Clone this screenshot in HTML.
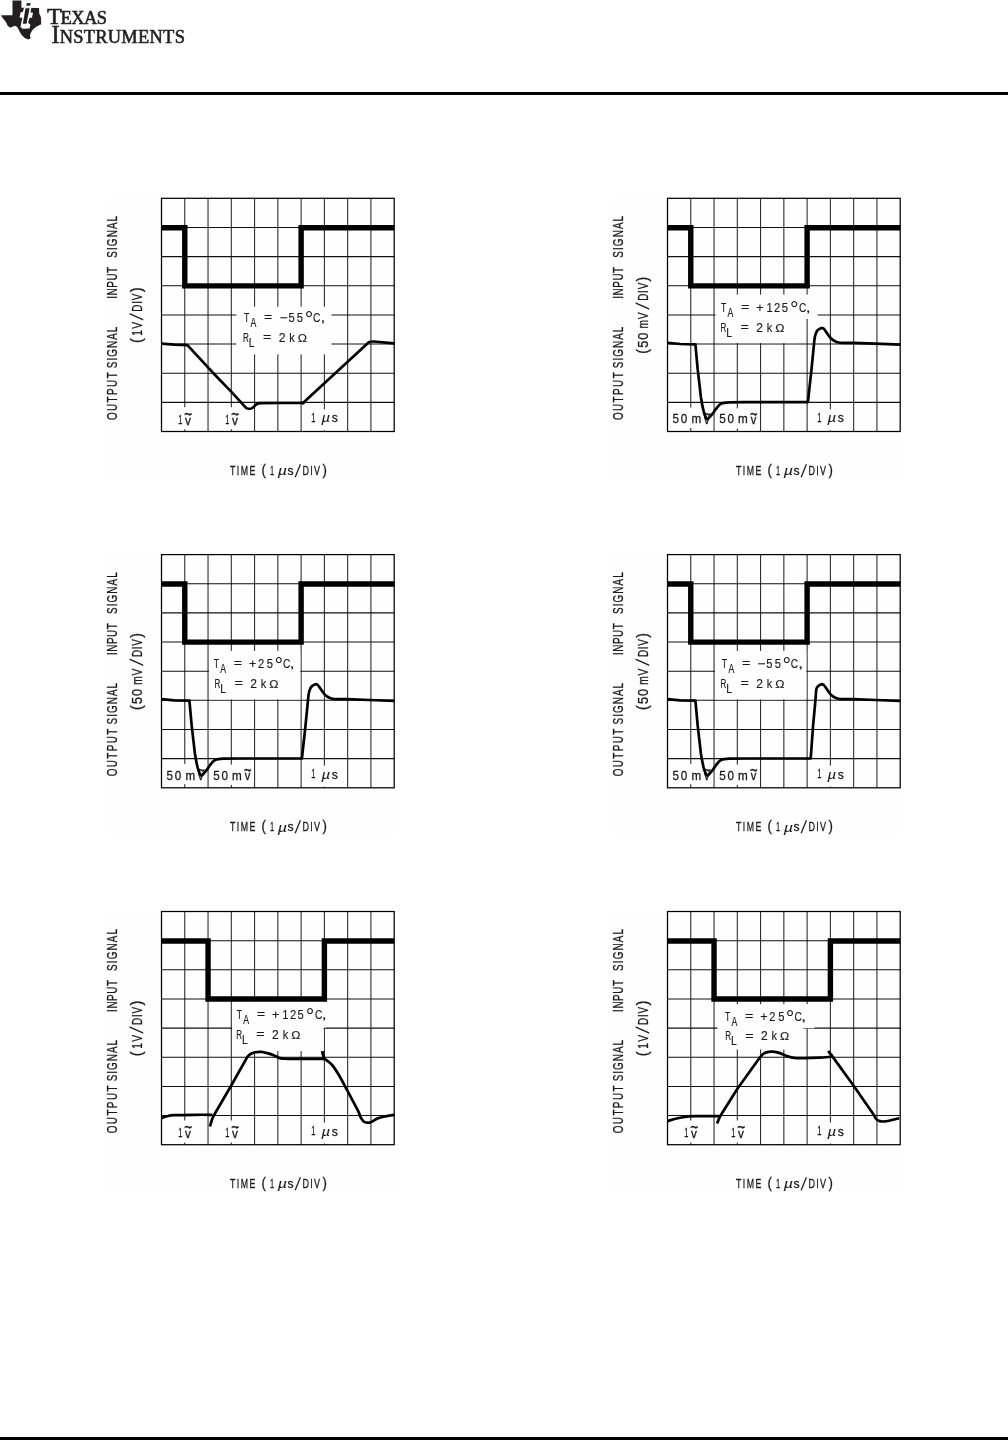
<!DOCTYPE html>
<html lang="en"><head><meta charset="utf-8"><title>Typical Performance Characteristics</title>
<style>html,body{margin:0;padding:0;background:#fff}body{width:1008px;height:1440px;overflow:hidden}svg{display:block}
text{font-family:"Liberation Sans",sans-serif;font-size:12.9px;fill:#1a1a1a;stroke:#1a1a1a;stroke-width:0.3px;font-kerning:none}
text.i{font-style:italic;stroke-width:.1px}
.bx text{stroke-width:.15px}
text.dg{stroke:none}
text.lg{font-family:"Liberation Serif",serif;fill:#231f20;stroke:#231f20;stroke-width:0.6px}
</style></head><body>
<svg width="1008" height="1440" viewBox="0 0 1008 1440">
<rect x="0" y="0" width="1008" height="1440" fill="#fff"/>
<g fill="#231f20">
<polygon points="12.48,0.48 21.43,0.48 21.43,7.86 39.05,8.1 39.29,13.81 40.95,17.14 41.19,24.29 36.19,26.67 32.86,29.52 30.95,32.38 30,35.24 30.48,38.57 28.1,39.52 24.76,38.1 21.43,34.76 19.05,30.48 17.62,27.62 15.71,25.95 13.33,26.19 10.24,27.86 7.62,25.71 6.19,22.38 1.43,16.19 1.19,15.24 12.48,15.14"/>
<polygon points="24.05,7.62 31.43,7.62 30.48,12.62 33.1,12.86 31.9,17.86 29.52,17.86 28.1,22.86 30.48,24.76 29.52,28.57 22.38,28.81 20.48,26.67 22.38,17.86 19.52,17.62 20.71,12.14 22.86,11.9" fill="#fff"/>
<polygon points="25.48,8.19 29.62,8.19 26.52,23.81 22.86,23.81"/>
<polygon points="26.9,3.1 30.71,3.33 30,5.71 26.19,5.62"/>
</g>
<text class="lg" x="46.9" y="23.5" style="font-size:24px">T<tspan dx="-0.95" style="font-size:18.4px;letter-spacing:-0.55px">EXAS</tspan></text>
<text class="lg" x="51.4" y="43.3" style="font-size:24.4px">I<tspan dx="0.1" style="font-size:18.4px;letter-spacing:0.29px">NSTRUMENTS</tspan></text>
<rect x="0" y="92" width="1008" height="3" fill="#000"/>
<rect x="0" y="1437" width="1008" height="3" fill="#000"/>
<g transform="translate(161.5 198.3)">
<rect x="-54.5" y="-0.5" width="288.5" height="280" fill="#fefefe"/>
<path d="M23.27 0V233.2M46.54 0V233.2M69.81 0V233.2M93.08 0V233.2M116.35 0V233.2M139.62 0V233.2M162.89 0V233.2M186.16 0V233.2M209.43 0V233.2" stroke="#262626" stroke-width="1.05" fill="none"/><path d="M0 29.15H232.7M0 58.3H232.7M0 87.45H232.7M0 116.6H232.7M0 145.75H232.7M0 174.9H232.7M0 204.05H232.7" stroke="#111" stroke-width="1.05" fill="none"/>
<rect x="74.8" y="108.5" width="95.2" height="47.6" fill="#fefefe"/>
<rect x="12" y="209" width="22.5" height="22" fill="#fefefe"/>
<rect x="58.5" y="209" width="22.5" height="22" fill="#fefefe"/>
<rect x="146" y="211" width="33" height="21" fill="#fefefe"/>
<rect x="0" y="0" width="232.7" height="233.2" fill="none" stroke="#000" stroke-width="1.25"/>
<path d="M0 29.45 H23.27 V87.55 H139.62 V29.45 H232.7" fill="none" stroke="#000" stroke-width="5.4" stroke-linejoin="miter"/>
<g class="bx"><text transform="translate(82.51 123.5) scale(0.6989 1)" style="font-size:12.4px">T</text><text transform="translate(89.08 128.8) scale(0.7054 1)" style="font-size:12.4px">A</text><text transform="translate(102.6 122.9) scale(1.1619 1)" style="font-size:12.4px">=</text><text transform="translate(118.01 123.5) scale(1.1287 1)" style="font-size:12.4px">−</text><text transform="translate(126.95 123.5) scale(0.9000 1)" style="font-size:12.4px" letter-spacing="2.45">55</text><text transform="translate(143.22 127.9) scale(1.0704 1)" style="font-size:20px" class="dg">°</text><text transform="translate(151.48 123.5) scale(0.8277 1)" style="font-size:12.4px">C</text><text transform="translate(158.94 123.5) scale(1.3969 1)" style="font-size:12.4px">,</text><text transform="translate(81.44 143.4) scale(0.6520 1)" style="font-size:12.4px">R</text><text transform="translate(87.24 148.4) scale(0.8414 1)" style="font-size:12.4px">L</text><text transform="translate(101.5 142.8) scale(1.1619 1)" style="font-size:12.4px">=</text><text transform="translate(117.29 143.4) scale(0.9736 1)" style="font-size:12.4px">2</text><text transform="translate(127.85 143.4) scale(0.8918 1)" style="font-size:12.4px">k</text><text transform="translate(136.37 143.4) scale(1.0769 1)" style="font-size:11.5px">Ω</text></g>
<text transform="translate(16.63 225.2) scale(0.5753 1)">1</text><text transform="translate(23.56 226.2) scale(0.8910 1)" style="font-size:13.2px">v</text><text transform="translate(22.69 221.8) scale(1.0430 1.35)" style="font-size:13px">~</text><text transform="translate(63.63 225.2) scale(0.5753 1)">1</text><text transform="translate(70.56 226.2) scale(0.8910 1)" style="font-size:13.2px">v</text><text transform="translate(69.69 221.8) scale(1.0430 1.35)" style="font-size:13px">~</text><text transform="translate(149.73 223.8) scale(0.5753 1)">1</text><text transform="translate(160.11 224) scale(1.1886 1)" style="font-size:12.6px" class="i">µ</text><text transform="translate(170.16 224) scale(0.9422 1)">s</text>
<path d="M0 145.4 L12.8 146.3 L25.9 146.8 L50.9 173.9 L69.9 193.6 L81.8 206.6 C83 208 84 209.2 84.8 209.7 C85.8 210.4 86.8 210.6 87.8 210.6 C88.9 210.6 89.9 210.3 90.8 209.7 C92.3 208.6 93.6 207 94.9 206.1 C96.3 205.2 98 204.9 99.7 204.9 L118.1 204.7 L141.5 204.7 L207.3 143.9 C208.8 143.3 210.5 143.1 212.3 143.2 L232.7 145.1" fill="none" stroke="#000" stroke-width="2.7" stroke-linejoin="round" stroke-linecap="butt"/><circle cx="141.6" cy="204.6" r="1.7" fill="#000"/>
<text transform="translate(-44.3 221.77) rotate(-90) scale(0.7000 1)" style="font-size:14.1px" letter-spacing="2.06">OUTPUT</text><text transform="translate(-44.3 169.85) rotate(-90) scale(0.7000 1)" style="font-size:14.1px" letter-spacing="1.51">SIGNAL</text><text transform="translate(-44.3 100.41) rotate(-90) scale(0.7000 1)" style="font-size:14.1px" letter-spacing="0.8">INPUT</text><text transform="translate(-44.3 59.45) rotate(-90) scale(0.7000 1)" style="font-size:14.1px" letter-spacing="1.62">SIGNAL</text><text transform="translate(-19.1 144.79) rotate(-90) scale(0.9187 1)" style="font-size:15.6px">(</text><text transform="translate(-19.4 137.37) rotate(-90) scale(0.7200 1)" style="font-size:14.1px" letter-spacing="1.95">1V</text><text class="dg" transform="translate(-18.1 122.3) rotate(-90) skewX(-9.82)" style="font-size:18.52px">/</text><text transform="translate(-19.4 113.41) rotate(-90) scale(0.7000 1)" style="font-size:14.1px" letter-spacing="1.14">DIV</text><text transform="translate(-19.1 93.99) rotate(-90) scale(0.9671 1)" style="font-size:15.6px">)</text>
<text transform="translate(68.4 276.7) scale(0.6800 1)" letter-spacing="2.26">TIME</text><text transform="translate(99.98 276.2) scale(0.9042 1)" style="font-size:14.6px">(</text><text transform="translate(108.43 276.7) scale(0.5753 1)">1</text><text transform="translate(116.21 276.9) scale(1.2777 1)" style="font-size:12.6px" class="i">µ</text><text transform="translate(126.06 276.7) scale(0.9422 1)">s</text><text class="dg" transform="translate(132.9 278.3) skewX(-7.37)" style="font-size:17.7px">/</text><text transform="translate(141.06 276.7) scale(0.7000 1)" letter-spacing="1.73">DIV</text><text transform="translate(161.02 276.2) scale(0.9042 1)" style="font-size:14.6px">)</text>
</g>
<g transform="translate(667.5 198.3)">
<rect x="-54.5" y="-0.5" width="288.5" height="280" fill="#fefefe"/>
<path d="M23.27 0V233.2M46.54 0V233.2M69.81 0V233.2M93.08 0V233.2M116.35 0V233.2M139.62 0V233.2M162.89 0V233.2M186.16 0V233.2M209.43 0V233.2" stroke="#262626" stroke-width="1.05" fill="none"/><path d="M0 29.15H232.7M0 58.3H232.7M0 87.45H232.7M0 116.6H232.7M0 145.75H232.7M0 174.9H232.7M0 204.05H232.7" stroke="#111" stroke-width="1.05" fill="none"/>
<rect x="48" y="96.3" width="82" height="48.5" fill="#fefefe"/>
<rect x="128" y="96.3" width="22" height="24.4" fill="#fefefe"/>
<rect x="2" y="209.3" width="43.6" height="20.3" fill="#fefefe"/>
<rect x="48.5" y="210" width="43.6" height="20.3" fill="#fefefe"/>
<rect x="146" y="211" width="33" height="21" fill="#fefefe"/>
<rect x="0" y="0" width="232.7" height="233.2" fill="none" stroke="#000" stroke-width="1.25"/>
<path d="M0 29.45 H23.27 V87.55 H139.62 V29.45 H232.7" fill="none" stroke="#000" stroke-width="5.4" stroke-linejoin="miter"/>
<g class="bx"><text transform="translate(53.41 113.5) scale(0.6989 1)" style="font-size:12.4px">T</text><text transform="translate(59.98 118.8) scale(0.7054 1)" style="font-size:12.4px">A</text><text transform="translate(73.5 112.9) scale(1.1619 1)" style="font-size:12.4px">=</text><text transform="translate(88.69 113.5) scale(1.0125 1)" style="font-size:12.4px">+</text><text transform="translate(98.95 113.5) scale(0.9000 1)" style="font-size:12.4px" letter-spacing="1.61">125</text><text transform="translate(122.52 117.9) scale(1.0704 1)" style="font-size:20px" class="dg">°</text><text transform="translate(131.58 113.5) scale(0.8277 1)" style="font-size:12.4px">C</text><text transform="translate(138.34 113.5) scale(1.3969 1)" style="font-size:12.4px">,</text><text transform="translate(52.94 133.2) scale(0.6520 1)" style="font-size:12.4px">R</text><text transform="translate(58.74 138.2) scale(0.8414 1)" style="font-size:12.4px">L</text><text transform="translate(73 132.6) scale(1.1619 1)" style="font-size:12.4px">=</text><text transform="translate(88.79 133.2) scale(0.9736 1)" style="font-size:12.4px">2</text><text transform="translate(99.35 133.2) scale(0.8918 1)" style="font-size:12.4px">k</text><text transform="translate(107.87 133.2) scale(1.0769 1)" style="font-size:11.5px">Ω</text></g>
<text transform="translate(4.94 225) scale(0.9000 1)" letter-spacing="2.01">50</text><text transform="translate(23.92 225) scale(0.9072 1)">m</text><text transform="translate(36.56 225.8) scale(0.8922 1)" style="font-size:12.5px">v</text><text transform="translate(35.72 221.4) scale(0.9963 1.35)" style="font-size:13px">~</text><text transform="translate(51.64 225) scale(0.9000 1)" letter-spacing="2.01">50</text><text transform="translate(70.62 225) scale(0.9072 1)">m</text><text transform="translate(83.26 225.8) scale(0.8922 1)" style="font-size:12.5px">v</text><text transform="translate(82.42 221.4) scale(0.9963 1.35)" style="font-size:13px">~</text><text transform="translate(149.73 223.8) scale(0.5753 1)">1</text><text transform="translate(160.11 224) scale(1.1886 1)" style="font-size:12.6px" class="i">µ</text><text transform="translate(170.16 224) scale(0.9422 1)">s</text>
<path d="M0 144.5 L12.8 145.7 L27.9 146.1 L30.2 171.1 L33.4 198.9 C34.3 205 35.3 209.5 36.2 213.2 C37.2 216.6 38.3 219.4 39.3 220.6 C39.7 221 40.2 220.9 40.8 220.3 C41.9 219.3 42.8 218 43.7 217.1 C45.3 215.5 46.6 213.5 47.7 211.6 C49.6 209 51.5 206.7 53.3 205.6 C56 204.3 59 204.2 62 204.1 L77.9 203.9 L140.4 203.9 L144 171 L146.9 141.6 C147.3 138.5 147.7 136.5 148.3 135.2 C148.9 133.5 149.5 132.5 150.3 131.7 C151.8 130.4 153.2 129.5 154.7 129.5 C156 129.6 157 131 157.9 132.5 C159.5 134.8 161 137 162.6 139.2 C164.5 141.3 166.8 142.8 169 143.6 C171.3 144.4 173.7 144.6 176.1 144.6 L185.6 144.6 L207.9 145.4 L232.7 146.3" fill="none" stroke="#000" stroke-width="2.7" stroke-linejoin="round" stroke-linecap="butt"/>
<text transform="translate(-44.3 221.77) rotate(-90) scale(0.7000 1)" style="font-size:14.1px" letter-spacing="2.06">OUTPUT</text><text transform="translate(-44.3 169.85) rotate(-90) scale(0.7000 1)" style="font-size:14.1px" letter-spacing="1.51">SIGNAL</text><text transform="translate(-44.3 100.41) rotate(-90) scale(0.7000 1)" style="font-size:14.1px" letter-spacing="0.8">INPUT</text><text transform="translate(-44.3 59.45) rotate(-90) scale(0.7000 1)" style="font-size:14.1px" letter-spacing="1.62">SIGNAL</text><text transform="translate(-19.1 155.37) rotate(-90) scale(0.8946 1)" style="font-size:15.6px">(</text><text transform="translate(-19.4 149.41) rotate(-90) scale(0.9000 1)" style="font-size:14.1px" letter-spacing="1.1">50</text><text transform="translate(-19.4 130.17) rotate(-90) scale(0.7200 1)" style="font-size:14.1px" letter-spacing="1.1">mV</text><text class="dg" transform="translate(-18.1 111.4) rotate(-90) skewX(-9.82)" style="font-size:18.52px">/</text><text transform="translate(-19.4 102.51) rotate(-90) scale(0.7000 1)" style="font-size:14.1px" letter-spacing="1.14">DIV</text><text transform="translate(-19.1 83.08) rotate(-90) scale(0.9066 1)" style="font-size:15.6px">)</text>
<text transform="translate(68.4 276.7) scale(0.6800 1)" letter-spacing="2.26">TIME</text><text transform="translate(99.98 276.2) scale(0.9042 1)" style="font-size:14.6px">(</text><text transform="translate(108.43 276.7) scale(0.5753 1)">1</text><text transform="translate(116.21 276.9) scale(1.2777 1)" style="font-size:12.6px" class="i">µ</text><text transform="translate(126.06 276.7) scale(0.9422 1)">s</text><text class="dg" transform="translate(132.9 278.3) skewX(-7.37)" style="font-size:17.7px">/</text><text transform="translate(141.06 276.7) scale(0.7000 1)" letter-spacing="1.73">DIV</text><text transform="translate(161.02 276.2) scale(0.9042 1)" style="font-size:14.6px">)</text>
</g>
<g transform="translate(161.5 554.6)">
<rect x="-54.5" y="-0.5" width="288.5" height="280" fill="#fefefe"/>
<path d="M23.27 0V233.2M46.54 0V233.2M69.81 0V233.2M93.08 0V233.2M116.35 0V233.2M139.62 0V233.2M162.89 0V233.2M186.16 0V233.2M209.43 0V233.2" stroke="#262626" stroke-width="1.05" fill="none"/><path d="M0 29.15H232.7M0 58.3H232.7M0 87.45H232.7M0 116.6H232.7M0 145.75H232.7M0 174.9H232.7M0 204.05H232.7" stroke="#111" stroke-width="1.05" fill="none"/>
<rect x="47.5" y="96.3" width="91.3" height="48.5" fill="#fefefe"/>
<rect x="2" y="209.3" width="43.6" height="20.3" fill="#fefefe"/>
<rect x="48.5" y="210" width="43.6" height="20.3" fill="#fefefe"/>
<rect x="146" y="211" width="33" height="21" fill="#fefefe"/>
<rect x="0" y="0" width="232.7" height="233.2" fill="none" stroke="#000" stroke-width="1.25"/>
<path d="M0 29.45 H23.27 V87.55 H139.62 V29.45 H232.7" fill="none" stroke="#000" stroke-width="5.4" stroke-linejoin="miter"/>
<g class="bx"><text transform="translate(52.21 113.2) scale(0.6989 1)" style="font-size:12.4px">T</text><text transform="translate(58.78 118.5) scale(0.7054 1)" style="font-size:12.4px">A</text><text transform="translate(72.3 112.6) scale(1.1619 1)" style="font-size:12.4px">=</text><text transform="translate(87.49 113.2) scale(1.0125 1)" style="font-size:12.4px">+</text><text transform="translate(96.44 113.2) scale(0.9000 1)" style="font-size:12.4px" letter-spacing="3.02">25</text><text transform="translate(113.02 117.6) scale(1.0704 1)" style="font-size:20px" class="dg">°</text><text transform="translate(121.58 113.2) scale(0.8277 1)" style="font-size:12.4px">C</text><text transform="translate(128.34 113.2) scale(1.3969 1)" style="font-size:12.4px">,</text><text transform="translate(52.94 132.9) scale(0.6520 1)" style="font-size:12.4px">R</text><text transform="translate(58.74 137.9) scale(0.8414 1)" style="font-size:12.4px">L</text><text transform="translate(73 132.3) scale(1.1619 1)" style="font-size:12.4px">=</text><text transform="translate(88.79 132.9) scale(0.9736 1)" style="font-size:12.4px">2</text><text transform="translate(99.35 132.9) scale(0.8918 1)" style="font-size:12.4px">k</text><text transform="translate(107.87 132.9) scale(1.0769 1)" style="font-size:11.5px">Ω</text></g>
<text transform="translate(4.94 225) scale(0.9000 1)" letter-spacing="2.01">50</text><text transform="translate(23.92 225) scale(0.9072 1)">m</text><text transform="translate(36.56 225.8) scale(0.8922 1)" style="font-size:12.5px">v</text><text transform="translate(35.72 221.4) scale(0.9963 1.35)" style="font-size:13px">~</text><text transform="translate(51.64 225) scale(0.9000 1)" letter-spacing="2.01">50</text><text transform="translate(70.62 225) scale(0.9072 1)">m</text><text transform="translate(83.26 225.8) scale(0.8922 1)" style="font-size:12.5px">v</text><text transform="translate(82.42 221.4) scale(0.9963 1.35)" style="font-size:13px">~</text><text transform="translate(149.73 223.8) scale(0.5753 1)">1</text><text transform="translate(160.11 224) scale(1.1886 1)" style="font-size:12.6px" class="i">µ</text><text transform="translate(170.16 224) scale(0.9422 1)">s</text>
<path d="M0 144.5 L12.8 145.7 L27.9 146.1 L30.2 171.1 L33.4 198.9 C34.3 205 35.3 209.5 36.2 213.2 C37.2 216.6 38.3 219.4 39.3 220.6 C39.7 221 40.2 220.9 40.8 220.3 C41.9 219.3 42.8 218 43.7 217.1 C45.3 215.5 46.6 213.5 47.7 211.6 C49.6 209 51.5 206.7 53.3 205.6 C56 204.3 59 204.2 62 204.1 L77.9 203.9 L140.4 203.9 L144 171 L146.9 141.6 C147.3 138.5 147.7 136.5 148.3 135.2 C148.9 133.5 149.5 132.5 150.3 131.7 C151.8 130.4 153.2 129.5 154.7 129.5 C156 129.6 157 131 157.9 132.5 C159.5 134.8 161 137 162.6 139.2 C164.5 141.3 166.8 142.8 169 143.6 C171.3 144.4 173.7 144.6 176.1 144.6 L185.6 144.6 L207.9 145.4 L232.7 146.3" fill="none" stroke="#000" stroke-width="2.7" stroke-linejoin="round" stroke-linecap="butt"/>
<text transform="translate(-44.3 221.77) rotate(-90) scale(0.7000 1)" style="font-size:14.1px" letter-spacing="2.06">OUTPUT</text><text transform="translate(-44.3 169.85) rotate(-90) scale(0.7000 1)" style="font-size:14.1px" letter-spacing="1.51">SIGNAL</text><text transform="translate(-44.3 100.41) rotate(-90) scale(0.7000 1)" style="font-size:14.1px" letter-spacing="0.8">INPUT</text><text transform="translate(-44.3 59.45) rotate(-90) scale(0.7000 1)" style="font-size:14.1px" letter-spacing="1.62">SIGNAL</text><text transform="translate(-19.1 155.37) rotate(-90) scale(0.8946 1)" style="font-size:15.6px">(</text><text transform="translate(-19.4 149.41) rotate(-90) scale(0.9000 1)" style="font-size:14.1px" letter-spacing="1.1">50</text><text transform="translate(-19.4 130.17) rotate(-90) scale(0.7200 1)" style="font-size:14.1px" letter-spacing="1.1">mV</text><text class="dg" transform="translate(-18.1 111.4) rotate(-90) skewX(-9.82)" style="font-size:18.52px">/</text><text transform="translate(-19.4 102.51) rotate(-90) scale(0.7000 1)" style="font-size:14.1px" letter-spacing="1.14">DIV</text><text transform="translate(-19.1 83.08) rotate(-90) scale(0.9066 1)" style="font-size:15.6px">)</text>
<text transform="translate(68.4 276.7) scale(0.6800 1)" letter-spacing="2.26">TIME</text><text transform="translate(99.98 276.2) scale(0.9042 1)" style="font-size:14.6px">(</text><text transform="translate(108.43 276.7) scale(0.5753 1)">1</text><text transform="translate(116.21 276.9) scale(1.2777 1)" style="font-size:12.6px" class="i">µ</text><text transform="translate(126.06 276.7) scale(0.9422 1)">s</text><text class="dg" transform="translate(132.9 278.3) skewX(-7.37)" style="font-size:17.7px">/</text><text transform="translate(141.06 276.7) scale(0.7000 1)" letter-spacing="1.73">DIV</text><text transform="translate(161.02 276.2) scale(0.9042 1)" style="font-size:14.6px">)</text>
</g>
<g transform="translate(667.5 554.6)">
<rect x="-54.5" y="-0.5" width="288.5" height="280" fill="#fefefe"/>
<path d="M23.27 0V233.2M46.54 0V233.2M69.81 0V233.2M93.08 0V233.2M116.35 0V233.2M139.62 0V233.2M162.89 0V233.2M186.16 0V233.2M209.43 0V233.2" stroke="#262626" stroke-width="1.05" fill="none"/><path d="M0 29.15H232.7M0 58.3H232.7M0 87.45H232.7M0 116.6H232.7M0 145.75H232.7M0 174.9H232.7M0 204.05H232.7" stroke="#111" stroke-width="1.05" fill="none"/>
<rect x="47.5" y="96.3" width="91.3" height="48.5" fill="#fefefe"/>
<rect x="2" y="209.3" width="43.6" height="20.3" fill="#fefefe"/>
<rect x="48.5" y="210" width="43.6" height="20.3" fill="#fefefe"/>
<rect x="146" y="211" width="33" height="21" fill="#fefefe"/>
<rect x="0" y="0" width="232.7" height="233.2" fill="none" stroke="#000" stroke-width="1.25"/>
<path d="M0 29.45 H23.27 V87.55 H139.62 V29.45 H232.7" fill="none" stroke="#000" stroke-width="5.4" stroke-linejoin="miter"/>
<g class="bx"><text transform="translate(54.31 113.2) scale(0.6989 1)" style="font-size:12.4px">T</text><text transform="translate(60.88 118.5) scale(0.7054 1)" style="font-size:12.4px">A</text><text transform="translate(74.4 112.6) scale(1.1619 1)" style="font-size:12.4px">=</text><text transform="translate(89.81 113.2) scale(1.1287 1)" style="font-size:12.4px">−</text><text transform="translate(98.75 113.2) scale(0.9000 1)" style="font-size:12.4px" letter-spacing="2.45">55</text><text transform="translate(115.02 117.6) scale(1.0704 1)" style="font-size:20px" class="dg">°</text><text transform="translate(123.28 113.2) scale(0.8277 1)" style="font-size:12.4px">C</text><text transform="translate(130.74 113.2) scale(1.3969 1)" style="font-size:12.4px">,</text><text transform="translate(52.94 132.9) scale(0.6520 1)" style="font-size:12.4px">R</text><text transform="translate(58.74 137.9) scale(0.8414 1)" style="font-size:12.4px">L</text><text transform="translate(73 132.3) scale(1.1619 1)" style="font-size:12.4px">=</text><text transform="translate(88.79 132.9) scale(0.9736 1)" style="font-size:12.4px">2</text><text transform="translate(99.35 132.9) scale(0.8918 1)" style="font-size:12.4px">k</text><text transform="translate(107.87 132.9) scale(1.0769 1)" style="font-size:11.5px">Ω</text></g>
<text transform="translate(4.94 225) scale(0.9000 1)" letter-spacing="2.01">50</text><text transform="translate(23.92 225) scale(0.9072 1)">m</text><text transform="translate(36.56 225.8) scale(0.8922 1)" style="font-size:12.5px">v</text><text transform="translate(35.72 221.4) scale(0.9963 1.35)" style="font-size:13px">~</text><text transform="translate(51.64 225) scale(0.9000 1)" letter-spacing="2.01">50</text><text transform="translate(70.62 225) scale(0.9072 1)">m</text><text transform="translate(83.26 225.8) scale(0.8922 1)" style="font-size:12.5px">v</text><text transform="translate(82.42 221.4) scale(0.9963 1.35)" style="font-size:13px">~</text><text transform="translate(149.73 223.8) scale(0.5753 1)">1</text><text transform="translate(160.11 224) scale(1.1886 1)" style="font-size:12.6px" class="i">µ</text><text transform="translate(170.16 224) scale(0.9422 1)">s</text>
<path d="M0 144.5 L12.8 145.7 L27.9 146.1 L30.2 171.1 L33.4 198.9 C34.3 205 35.3 209.5 36.2 213.2 C37.2 216.6 38.3 219.4 39.3 220.6 C39.7 221 40.2 220.9 40.8 220.3 C41.9 219.3 42.8 218 43.7 217.1 C45.3 215.5 46.6 213.5 47.7 211.6 C49.6 209 51.5 206.7 53.3 205.6 C56 204.3 59 204.2 62 204.1 L77.9 203.9 L143.2 203.9 L145.6 171 L148.3 141.6 C148.4 139 148.5 137 148.7 135.2 C149 133.5 149.6 132.6 150.3 131.9 C151.8 130.4 153.2 129.5 154.7 129.5 C156 129.6 157 131 157.9 132.5 C159.5 134.8 161 137 162.6 139.2 C164.5 141.3 166.8 142.8 169 143.6 C171.3 144.4 173.7 144.6 176.1 144.6 L185.6 144.6 L207.9 145.4 L232.7 146.3" fill="none" stroke="#000" stroke-width="2.7" stroke-linejoin="round" stroke-linecap="butt"/>
<text transform="translate(-44.3 221.77) rotate(-90) scale(0.7000 1)" style="font-size:14.1px" letter-spacing="2.06">OUTPUT</text><text transform="translate(-44.3 169.85) rotate(-90) scale(0.7000 1)" style="font-size:14.1px" letter-spacing="1.51">SIGNAL</text><text transform="translate(-44.3 100.41) rotate(-90) scale(0.7000 1)" style="font-size:14.1px" letter-spacing="0.8">INPUT</text><text transform="translate(-44.3 59.45) rotate(-90) scale(0.7000 1)" style="font-size:14.1px" letter-spacing="1.62">SIGNAL</text><text transform="translate(-19.1 155.37) rotate(-90) scale(0.8946 1)" style="font-size:15.6px">(</text><text transform="translate(-19.4 149.41) rotate(-90) scale(0.9000 1)" style="font-size:14.1px" letter-spacing="1.1">50</text><text transform="translate(-19.4 130.17) rotate(-90) scale(0.7200 1)" style="font-size:14.1px" letter-spacing="1.1">mV</text><text class="dg" transform="translate(-18.1 111.4) rotate(-90) skewX(-9.82)" style="font-size:18.52px">/</text><text transform="translate(-19.4 102.51) rotate(-90) scale(0.7000 1)" style="font-size:14.1px" letter-spacing="1.14">DIV</text><text transform="translate(-19.1 83.08) rotate(-90) scale(0.9066 1)" style="font-size:15.6px">)</text>
<text transform="translate(68.4 276.7) scale(0.6800 1)" letter-spacing="2.26">TIME</text><text transform="translate(99.98 276.2) scale(0.9042 1)" style="font-size:14.6px">(</text><text transform="translate(108.43 276.7) scale(0.5753 1)">1</text><text transform="translate(116.21 276.9) scale(1.2777 1)" style="font-size:12.6px" class="i">µ</text><text transform="translate(126.06 276.7) scale(0.9422 1)">s</text><text class="dg" transform="translate(132.9 278.3) skewX(-7.37)" style="font-size:17.7px">/</text><text transform="translate(141.06 276.7) scale(0.7000 1)" letter-spacing="1.73">DIV</text><text transform="translate(161.02 276.2) scale(0.9042 1)" style="font-size:14.6px">)</text>
</g>
<g transform="translate(161.5 911.5)">
<rect x="-54.5" y="-0.5" width="288.5" height="280" fill="#fefefe"/>
<path d="M23.27 0V233.2M46.54 0V233.2M69.81 0V233.2M93.08 0V233.2M116.35 0V233.2M139.62 0V233.2M162.89 0V233.2M186.16 0V233.2M209.43 0V233.2" stroke="#262626" stroke-width="1.05" fill="none"/><path d="M0 29.15H232.7M0 58.3H232.7M0 87.45H232.7M0 116.6H232.7M0 145.75H232.7M0 174.9H232.7M0 204.05H232.7" stroke="#111" stroke-width="1.05" fill="none"/>
<rect x="70.6" y="90" width="91.5" height="49.6" fill="#fefefe"/>
<rect x="160" y="90" width="4.1" height="26.3" fill="#fefefe"/>
<rect x="12" y="209" width="22.5" height="22" fill="#fefefe"/>
<rect x="58.5" y="209" width="22.5" height="22" fill="#fefefe"/>
<rect x="146" y="211" width="33" height="21" fill="#fefefe"/>
<rect x="0" y="0" width="232.7" height="233.2" fill="none" stroke="#000" stroke-width="1.25"/>
<path d="M0 29.45 H46.54 V87.55 H162.89 V29.45 H232.7" fill="none" stroke="#000" stroke-width="5.4" stroke-linejoin="miter"/>
<g class="bx"><text transform="translate(75.21 107.3) scale(0.6989 1)" style="font-size:12.4px">T</text><text transform="translate(81.78 112.6) scale(0.7054 1)" style="font-size:12.4px">A</text><text transform="translate(95.3 106.7) scale(1.1619 1)" style="font-size:12.4px">=</text><text transform="translate(110.49 107.3) scale(1.0125 1)" style="font-size:12.4px">+</text><text transform="translate(120.75 107.3) scale(0.9000 1)" style="font-size:12.4px" letter-spacing="1.61">125</text><text transform="translate(144.32 111.7) scale(1.0704 1)" style="font-size:20px" class="dg">°</text><text transform="translate(153.38 107.3) scale(0.8277 1)" style="font-size:12.4px">C</text><text transform="translate(160.14 107.3) scale(1.3969 1)" style="font-size:12.4px">,</text><text transform="translate(74.74 127.1) scale(0.6520 1)" style="font-size:12.4px">R</text><text transform="translate(80.54 132.1) scale(0.8414 1)" style="font-size:12.4px">L</text><text transform="translate(94.8 126.5) scale(1.1619 1)" style="font-size:12.4px">=</text><text transform="translate(110.59 127.1) scale(0.9736 1)" style="font-size:12.4px">2</text><text transform="translate(121.15 127.1) scale(0.8918 1)" style="font-size:12.4px">k</text><text transform="translate(129.67 127.1) scale(1.0769 1)" style="font-size:11.5px">Ω</text></g>
<text transform="translate(16.63 225.2) scale(0.5753 1)">1</text><text transform="translate(23.56 226.2) scale(0.8910 1)" style="font-size:13.2px">v</text><text transform="translate(22.69 221.8) scale(1.0430 1.35)" style="font-size:13px">~</text><text transform="translate(63.63 225.2) scale(0.5753 1)">1</text><text transform="translate(70.56 226.2) scale(0.8910 1)" style="font-size:13.2px">v</text><text transform="translate(69.69 221.8) scale(1.0430 1.35)" style="font-size:13px">~</text><text transform="translate(149.73 223.8) scale(0.5753 1)">1</text><text transform="translate(160.11 224) scale(1.1886 1)" style="font-size:12.6px" class="i">µ</text><text transform="translate(170.16 224) scale(0.9422 1)">s</text>
<path d="M0 206.6C0.93 206.28 3.47 205.18 5.6 204.7C7.73 204.22 8.03 203.93 12.8 203.7C17.57 203.47 27.83 203.37 34.2 203.3C40.57 203.23 48.2 203.3 51 203.3" fill="none" stroke="#000" stroke-width="2.7" stroke-linejoin="round" stroke-linecap="butt"/><path d="M48.4 215C48.82 213.68 50.08 209.22 50.9 207.1C51.72 204.98 52.9 203.1 53.3 202.3 L69.9 173.7 L86 145.2 C86.5 144.75 87.72 143.23 89 142.5C90.28 141.77 91.92 141.15 93.7 140.8C95.48 140.45 97.72 140.27 99.7 140.4C101.68 140.53 103.42 141 105.6 141.6C107.78 142.2 110.68 143.17 112.8 144C114.92 144.83 116.2 146.05 118.3 146.6C120.4 147.15 124.22 147.18 125.4 147.3 L162.6 147.3" fill="none" stroke="#000" stroke-width="2.7" stroke-linejoin="round" stroke-linecap="butt"/><path d="M160.7 139.6 L162.6 147 " fill="none" stroke="#000" stroke-width="3" stroke-linejoin="round" stroke-linecap="butt"/><path d="M162.3 147.3C162.5 147.33 162.12 146.47 163.5 147.5C164.88 148.53 168.22 150.72 170.6 153.5C172.98 156.28 175.42 160.23 177.8 164.2C180.18 168.17 181.73 171.35 184.9 177.3C188.07 183.25 194.42 195.13 196.8 199.9C199.18 204.67 198.3 204.22 199.2 205.9C200.1 207.58 201.1 209.12 202.2 210C203.3 210.88 204.52 211.13 205.8 211.2C207.08 211.27 208.22 211.08 209.9 210.4C211.58 209.72 213.72 208 215.9 207.1C218.08 206.2 220.2 205.63 223 205C225.8 204.37 231.08 203.58 232.7 203.3" fill="none" stroke="#000" stroke-width="2.7" stroke-linejoin="round" stroke-linecap="butt"/>
<text transform="translate(-44.3 221.77) rotate(-90) scale(0.7000 1)" style="font-size:14.1px" letter-spacing="2.06">OUTPUT</text><text transform="translate(-44.3 169.85) rotate(-90) scale(0.7000 1)" style="font-size:14.1px" letter-spacing="1.51">SIGNAL</text><text transform="translate(-44.3 100.41) rotate(-90) scale(0.7000 1)" style="font-size:14.1px" letter-spacing="0.8">INPUT</text><text transform="translate(-44.3 59.45) rotate(-90) scale(0.7000 1)" style="font-size:14.1px" letter-spacing="1.62">SIGNAL</text><text transform="translate(-19.1 144.79) rotate(-90) scale(0.9187 1)" style="font-size:15.6px">(</text><text transform="translate(-19.4 137.37) rotate(-90) scale(0.7200 1)" style="font-size:14.1px" letter-spacing="1.95">1V</text><text class="dg" transform="translate(-18.1 122.3) rotate(-90) skewX(-9.82)" style="font-size:18.52px">/</text><text transform="translate(-19.4 113.41) rotate(-90) scale(0.7000 1)" style="font-size:14.1px" letter-spacing="1.14">DIV</text><text transform="translate(-19.1 93.99) rotate(-90) scale(0.9671 1)" style="font-size:15.6px">)</text>
<text transform="translate(68.4 276.7) scale(0.6800 1)" letter-spacing="2.26">TIME</text><text transform="translate(99.98 276.2) scale(0.9042 1)" style="font-size:14.6px">(</text><text transform="translate(108.43 276.7) scale(0.5753 1)">1</text><text transform="translate(116.21 276.9) scale(1.2777 1)" style="font-size:12.6px" class="i">µ</text><text transform="translate(126.06 276.7) scale(0.9422 1)">s</text><text class="dg" transform="translate(132.9 278.3) skewX(-7.37)" style="font-size:17.7px">/</text><text transform="translate(141.06 276.7) scale(0.7000 1)" letter-spacing="1.73">DIV</text><text transform="translate(161.02 276.2) scale(0.9042 1)" style="font-size:14.6px">)</text>
</g>
<g transform="translate(667.5 911.5)">
<rect x="-54.5" y="-0.5" width="288.5" height="280" fill="#fefefe"/>
<path d="M23.27 0V233.2M46.54 0V233.2M69.81 0V233.2M93.08 0V233.2M116.35 0V233.2M139.62 0V233.2M162.89 0V233.2M186.16 0V233.2M209.43 0V233.2" stroke="#262626" stroke-width="1.05" fill="none"/><path d="M0 29.15H232.7M0 58.3H232.7M0 87.45H232.7M0 116.6H232.7M0 145.75H232.7M0 174.9H232.7M0 204.05H232.7" stroke="#111" stroke-width="1.05" fill="none"/>
<rect x="50" y="92.6" width="85.5" height="45.4" fill="#fefefe"/>
<rect x="133" y="92.6" width="14" height="24.2" fill="#fefefe"/>
<rect x="12" y="209" width="22.5" height="22" fill="#fefefe"/>
<rect x="58.5" y="209" width="22.5" height="22" fill="#fefefe"/>
<rect x="146" y="211" width="33" height="21" fill="#fefefe"/>
<rect x="0" y="0" width="232.7" height="233.2" fill="none" stroke="#000" stroke-width="1.25"/>
<path d="M0 29.45 H46.54 V87.55 H162.89 V29.45 H232.7" fill="none" stroke="#000" stroke-width="5.4" stroke-linejoin="miter"/>
<g class="bx"><text transform="translate(57.51 109.5) scale(0.6989 1)" style="font-size:12.4px">T</text><text transform="translate(64.08 114.8) scale(0.7054 1)" style="font-size:12.4px">A</text><text transform="translate(77.6 108.9) scale(1.1619 1)" style="font-size:12.4px">=</text><text transform="translate(92.79 109.5) scale(1.0125 1)" style="font-size:12.4px">+</text><text transform="translate(101.74 109.5) scale(0.9000 1)" style="font-size:12.4px" letter-spacing="3.02">25</text><text transform="translate(118.32 113.9) scale(1.0704 1)" style="font-size:20px" class="dg">°</text><text transform="translate(126.88 109.5) scale(0.8277 1)" style="font-size:12.4px">C</text><text transform="translate(133.64 109.5) scale(1.3969 1)" style="font-size:12.4px">,</text><text transform="translate(57.64 128.9) scale(0.6520 1)" style="font-size:12.4px">R</text><text transform="translate(63.44 133.9) scale(0.8414 1)" style="font-size:12.4px">L</text><text transform="translate(77.7 128.3) scale(1.1619 1)" style="font-size:12.4px">=</text><text transform="translate(93.49 128.9) scale(0.9736 1)" style="font-size:12.4px">2</text><text transform="translate(104.05 128.9) scale(0.8918 1)" style="font-size:12.4px">k</text><text transform="translate(112.57 128.9) scale(1.0769 1)" style="font-size:11.5px">Ω</text></g>
<text transform="translate(16.63 225.2) scale(0.5753 1)">1</text><text transform="translate(23.56 226.2) scale(0.8910 1)" style="font-size:13.2px">v</text><text transform="translate(22.69 221.8) scale(1.0430 1.35)" style="font-size:13px">~</text><text transform="translate(63.63 225.2) scale(0.5753 1)">1</text><text transform="translate(70.56 226.2) scale(0.8910 1)" style="font-size:13.2px">v</text><text transform="translate(69.69 221.8) scale(1.0430 1.35)" style="font-size:13px">~</text><text transform="translate(149.73 223.8) scale(0.5753 1)">1</text><text transform="translate(160.11 224) scale(1.1886 1)" style="font-size:12.6px" class="i">µ</text><text transform="translate(170.16 224) scale(0.9422 1)">s</text>
<path d="M0 209.6C1.33 209.22 5.08 208.02 8 207.3C10.92 206.58 14.12 205.73 17.5 205.3C20.88 204.87 24.55 204.8 28.3 204.7C32.05 204.6 38.05 204.7 40 204.7 L52 204.7" fill="none" stroke="#000" stroke-width="2.7" stroke-linejoin="round" stroke-linecap="butt"/><path d="M49.6 212C50.02 210.98 51.28 207.62 52.1 205.9C52.92 204.18 54.1 202.4 54.5 201.7 L69.9 177.3 L92.5 145.8 C93.1 145.2 94.7 143.1 96.1 142.2C97.5 141.3 99.32 140.73 100.9 140.4C102.48 140.07 103.82 140.03 105.6 140.2C107.38 140.37 109.28 140.67 111.6 141.4C113.92 142.13 117 143.77 119.5 144.6C122 145.43 123.63 146.07 126.6 146.4C129.57 146.73 133.13 146.65 137.3 146.6C141.47 146.55 147.28 146.32 151.6 146.1C155.92 145.88 161.27 145.43 163.2 145.3" fill="none" stroke="#000" stroke-width="2.7" stroke-linejoin="round" stroke-linecap="butt"/><path d="M160.9 139.4 C162 141.5 163.2 143 164.7 144.4" fill="none" stroke="#000" stroke-width="3" stroke-linejoin="round" stroke-linecap="butt"/><path d="M163 145 L164.7 144.6 L184.9 172.5 L206.4 203.5 C206.62 203.97 207.12 205.47 207.7 206.3C208.28 207.13 209.13 207.95 209.9 208.5C210.67 209.05 211.4 209.35 212.3 209.6C213.2 209.85 214.3 209.97 215.3 210C216.3 210.03 217.22 209.88 218.3 209.75C219.38 209.62 220.42 209.49 221.8 209.2C223.18 208.91 224.97 208.42 226.6 208C228.23 207.58 230.77 206.92 231.6 206.7" fill="none" stroke="#000" stroke-width="2.7" stroke-linejoin="round" stroke-linecap="butt"/>
<text transform="translate(-44.3 221.77) rotate(-90) scale(0.7000 1)" style="font-size:14.1px" letter-spacing="2.06">OUTPUT</text><text transform="translate(-44.3 169.85) rotate(-90) scale(0.7000 1)" style="font-size:14.1px" letter-spacing="1.51">SIGNAL</text><text transform="translate(-44.3 100.41) rotate(-90) scale(0.7000 1)" style="font-size:14.1px" letter-spacing="0.8">INPUT</text><text transform="translate(-44.3 59.45) rotate(-90) scale(0.7000 1)" style="font-size:14.1px" letter-spacing="1.62">SIGNAL</text><text transform="translate(-19.1 144.79) rotate(-90) scale(0.9187 1)" style="font-size:15.6px">(</text><text transform="translate(-19.4 137.37) rotate(-90) scale(0.7200 1)" style="font-size:14.1px" letter-spacing="1.95">1V</text><text class="dg" transform="translate(-18.1 122.3) rotate(-90) skewX(-9.82)" style="font-size:18.52px">/</text><text transform="translate(-19.4 113.41) rotate(-90) scale(0.7000 1)" style="font-size:14.1px" letter-spacing="1.14">DIV</text><text transform="translate(-19.1 93.99) rotate(-90) scale(0.9671 1)" style="font-size:15.6px">)</text>
<text transform="translate(68.4 276.7) scale(0.6800 1)" letter-spacing="2.26">TIME</text><text transform="translate(99.98 276.2) scale(0.9042 1)" style="font-size:14.6px">(</text><text transform="translate(108.43 276.7) scale(0.5753 1)">1</text><text transform="translate(116.21 276.9) scale(1.2777 1)" style="font-size:12.6px" class="i">µ</text><text transform="translate(126.06 276.7) scale(0.9422 1)">s</text><text class="dg" transform="translate(132.9 278.3) skewX(-7.37)" style="font-size:17.7px">/</text><text transform="translate(141.06 276.7) scale(0.7000 1)" letter-spacing="1.73">DIV</text><text transform="translate(161.02 276.2) scale(0.9042 1)" style="font-size:14.6px">)</text>
</g>
</svg>
</body></html>
